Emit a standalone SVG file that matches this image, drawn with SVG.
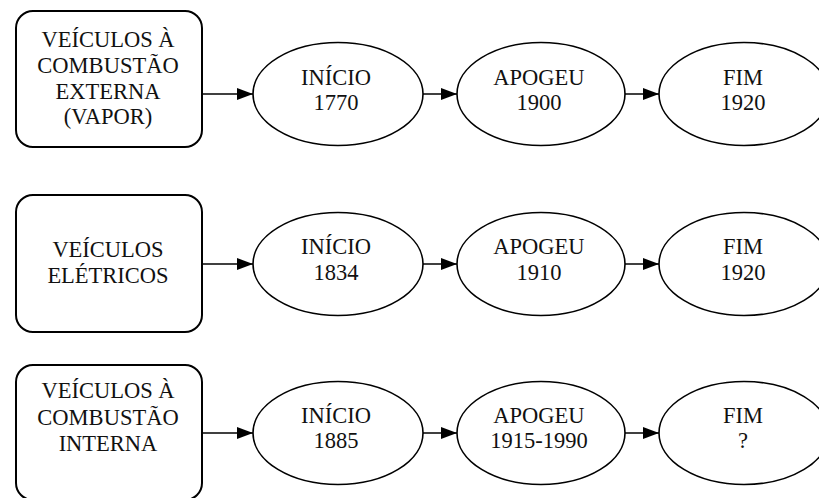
<svg xmlns="http://www.w3.org/2000/svg" width="819" height="498" viewBox="0 0 819 498">
  <style>
    .box { fill: #ffffff; stroke: #000000; stroke-width: 2; }
    .stage { fill: #ffffff; stroke: #000000; stroke-width: 1.6; }
    .edge { fill: none; stroke: #000000; stroke-width: 1.6; }
    text { font-family: "Liberation Serif", "Times New Roman", serif; font-size: 22.5px; fill: #111111; text-anchor: middle; }
  </style>
  <defs>
    <marker id="arrow" viewBox="0 0 16 12" refX="16" refY="6" markerWidth="16" markerHeight="12" markerUnits="userSpaceOnUse" orient="auto">
      <path d="M0,0 L16,6 L0,12 Z" fill="#000000"/>
    </marker>
  </defs>
  <rect width="819" height="498" fill="#ffffff"/>

  <g id="connectors">
    <line class="edge" x1="202" y1="94" x2="253" y2="94" marker-end="url(#arrow)"/>
    <line class="edge" x1="423" y1="94" x2="457" y2="94" marker-end="url(#arrow)"/>
    <line class="edge" x1="625" y1="94" x2="659" y2="94" marker-end="url(#arrow)"/>

    <line class="edge" x1="202" y1="264" x2="253" y2="264" marker-end="url(#arrow)"/>
    <line class="edge" x1="423" y1="264" x2="457" y2="264" marker-end="url(#arrow)"/>
    <line class="edge" x1="625" y1="264" x2="659" y2="264" marker-end="url(#arrow)"/>

    <line class="edge" x1="202" y1="433" x2="253" y2="433" marker-end="url(#arrow)"/>
    <line class="edge" x1="423" y1="433" x2="457" y2="433" marker-end="url(#arrow)"/>
    <line class="edge" x1="625" y1="433" x2="659" y2="433" marker-end="url(#arrow)"/>
  </g>

  <!-- Row 1: external combustion (steam) -->
  <g id="vapor">
    <rect class="box" x="16" y="11" width="186" height="136" rx="17" ry="17"/>
    <text x="108" y="47">VEÍCULOS À</text>
    <text x="108" y="73">COMBUSTÃO</text>
    <text x="108" y="99">EXTERNA</text>
    <text x="108" y="124">(VAPOR)</text>
  </g>
  <g id="vapor-inicio">
    <ellipse class="stage" cx="338" cy="94" rx="85" ry="51.5"/>
    <text x="336" y="85">INÍCIO</text>
    <text x="336" y="110">1770</text>
  </g>
  <g id="vapor-apogeu">
    <ellipse class="stage" cx="541" cy="94" rx="84" ry="51.5"/>
    <text x="539" y="85">APOGEU</text>
    <text x="539" y="110">1900</text>
  </g>
  <g id="vapor-fim">
    <ellipse class="stage" cx="744" cy="94" rx="85" ry="51.5"/>
    <text x="743" y="85">FIM</text>
    <text x="743" y="110">1920</text>
  </g>

  <!-- Row 2: electric -->
  <g id="eletricos">
    <rect class="box" x="16" y="195" width="186" height="137" rx="17" ry="17"/>
    <text x="108" y="257">VEÍCULOS</text>
    <text x="108" y="283">ELÉTRICOS</text>
  </g>
  <g id="eletricos-inicio">
    <ellipse class="stage" cx="338" cy="264" rx="85" ry="51.5"/>
    <text x="336" y="254">INÍCIO</text>
    <text x="336" y="280">1834</text>
  </g>
  <g id="eletricos-apogeu">
    <ellipse class="stage" cx="541" cy="264" rx="84" ry="51.5"/>
    <text x="539" y="254">APOGEU</text>
    <text x="539" y="280">1910</text>
  </g>
  <g id="eletricos-fim">
    <ellipse class="stage" cx="744" cy="264" rx="85" ry="51.5"/>
    <text x="743" y="254">FIM</text>
    <text x="743" y="280">1920</text>
  </g>

  <!-- Row 3: internal combustion -->
  <g id="interna">
    <rect class="box" x="16" y="365" width="186" height="135" rx="17" ry="17"/>
    <text x="108" y="398">VEÍCULOS À</text>
    <text x="108" y="425">COMBUSTÃO</text>
    <text x="108" y="451">INTERNA</text>
  </g>
  <g id="interna-inicio">
    <ellipse class="stage" cx="338" cy="433" rx="85" ry="51.5"/>
    <text x="336" y="423">INÍCIO</text>
    <text x="336" y="448">1885</text>
  </g>
  <g id="interna-apogeu">
    <ellipse class="stage" cx="541" cy="433" rx="84" ry="51.5"/>
    <text x="539" y="423">APOGEU</text>
    <text x="539" y="448">1915-1990</text>
  </g>
  <g id="interna-fim">
    <ellipse class="stage" cx="744" cy="433" rx="85" ry="51.5"/>
    <text x="743" y="423">FIM</text>
    <text x="743" y="448">?</text>
  </g>
</svg>
